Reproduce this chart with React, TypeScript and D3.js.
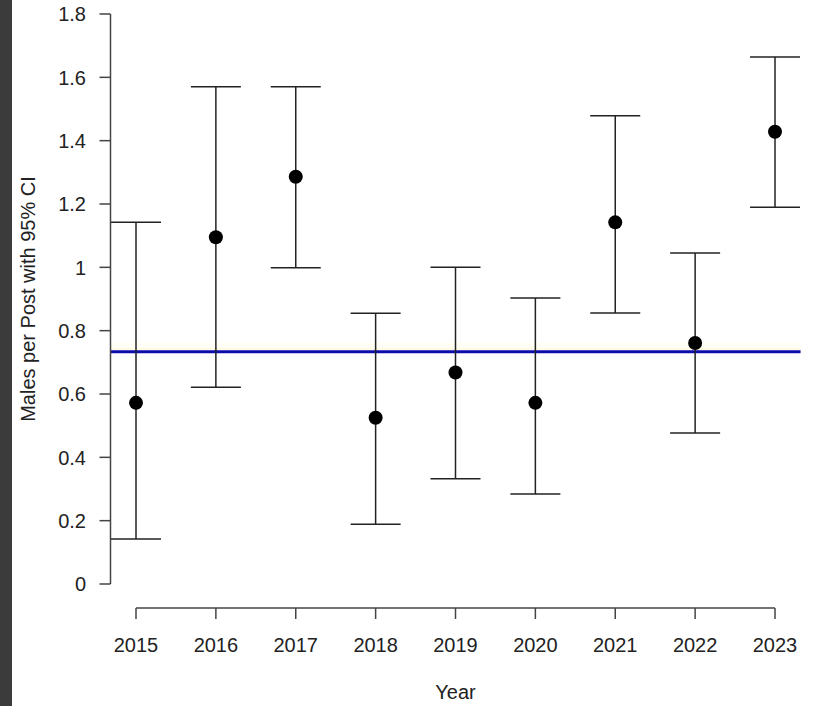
import React from "react";
import * as d3 from "d3";

const years = [2015, 2016, 2017, 2018, 2019, 2020, 2021, 2022, 2023];
const means = [0.572, 1.095, 1.286, 0.525, 0.668, 0.572, 1.142, 0.761, 1.428];
const lower = [0.142, 0.621, 0.999, 0.189, 0.332, 0.284, 0.856, 0.477, 1.19];
const upper = [1.142, 1.57, 1.57, 0.855, 1.0, 0.903, 1.479, 1.045, 1.664];
const overallMean = 0.7336;
const yTicks = [0, 0.2, 0.4, 0.6, 0.8, 1, 1.2, 1.4, 1.6, 1.8];

const W = 813;
const H = 706;
const FONT = "'Liberation Sans', Arial, sans-serif";

export default function App() {
  const x = d3.scaleLinear().domain([2015, 2023]).range([136, 775]);
  const y = d3.scaleLinear().domain([0, 1.8]).range([584, 14]);
  const pad = 0.32;
  const xL = x(2015 - pad);
  const xR = x(2023 + pad);
  const capHalf = 25;
  const axisY = 608;
  const axisX = 110.5;
  const lineCol = "#222";
  const fs = 20;

  return (
    <svg
      width={W}
      height={H}
      style={{ position: "absolute", left: 0, top: 0, display: "block", background: "#fff" }}
      fontFamily={FONT}
    >
      <rect x={0} y={0} width={W} height={H} fill="#fff" />
      <rect x={0} y={0} width={12} height={H} fill="#3b3b3b" />

      {/* pale band + mean line */}
      <rect x={xL} y={y(overallMean) - 9} width={xR - xL} height={8} fill="#fffef6" />
      <rect x={xL} y={y(overallMean) - 4} width={xR - xL} height={3} fill="#fffbe6" />
      <line x1={xL} x2={xR} y1={y(overallMean)} y2={y(overallMean)} stroke="#0c0cac" strokeWidth={3} />

      {/* error bars */}
      {years.map((yr, i) => (
        <g key={yr} stroke={lineCol} strokeWidth={1.5}>
          <line x1={x(yr)} x2={x(yr)} y1={y(lower[i])} y2={y(upper[i])} />
          <line x1={x(yr) - capHalf} x2={x(yr) + capHalf} y1={y(upper[i])} y2={y(upper[i])} />
          <line x1={x(yr) - capHalf} x2={x(yr) + capHalf} y1={y(lower[i])} y2={y(lower[i])} />
        </g>
      ))}
      {years.map((yr, i) => (
        <circle key={"p" + yr} cx={x(yr)} cy={y(means[i])} r={7} fill="#000" />
      ))}

      {/* y axis */}
      <line x1={axisX} x2={axisX} y1={y(0)} y2={y(1.8)} stroke="#444" strokeWidth={1.5} />
      {yTicks.map((t) => (
        <g key={"yt" + t}>
          <line x1={axisX - 11} x2={axisX} y1={y(t)} y2={y(t)} stroke="#444" strokeWidth={1.5} />
          <text x={86} y={y(t)} dy="0.36em" textAnchor="end" fontSize={fs} fill="#222">
            {String(+t.toFixed(1))}
          </text>
        </g>
      ))}

      {/* x axis */}
      <line x1={x(2015)} x2={x(2023)} y1={axisY} y2={axisY} stroke="#444" strokeWidth={1.5} />
      {years.map((yr) => (
        <g key={"xt" + yr}>
          <line x1={x(yr)} x2={x(yr)} y1={axisY} y2={axisY + 11} stroke="#444" strokeWidth={1.5} />
          <text x={x(yr)} y={651.5} textAnchor="middle" fontSize={fs} fill="#222">
            {yr}
          </text>
        </g>
      ))}

      <text x={(x(2015) + x(2023)) / 2} y={699} textAnchor="middle" fontSize={fs} fill="#222">
        Year
      </text>
      <text
        transform={`translate(35, ${(y(0) + y(1.8)) / 2}) rotate(-90)`}
        textAnchor="middle"
        fontSize={fs}
        fill="#222"
      >
        Males per Post with 95% CI
      </text>
    </svg>
  );
}
